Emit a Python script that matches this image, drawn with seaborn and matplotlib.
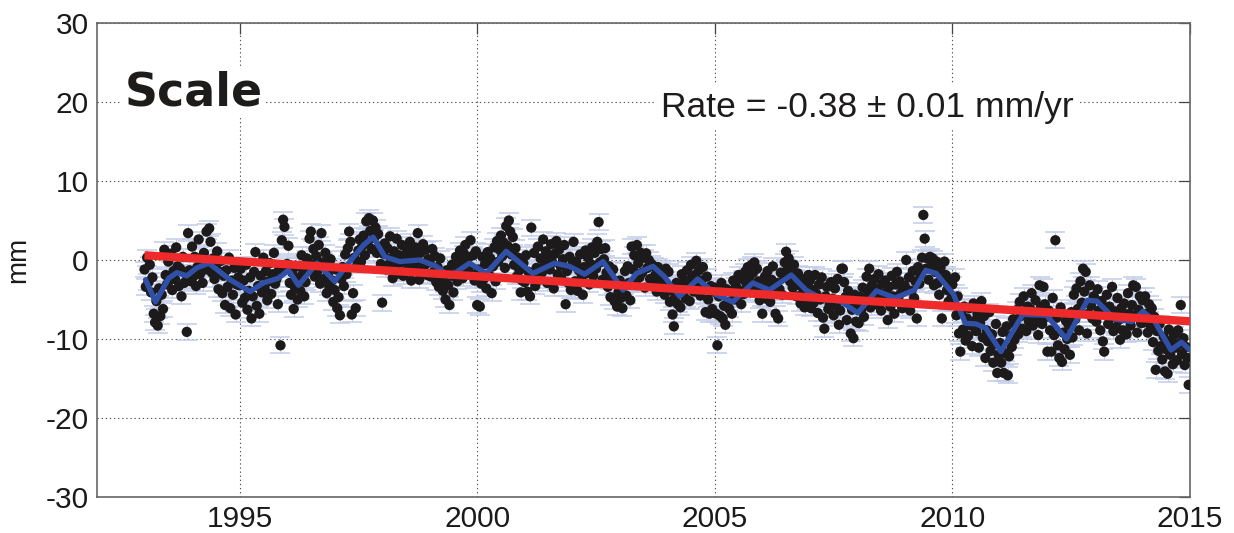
import numpy as np
import pandas as pd
import matplotlib
matplotlib.use("Agg")
import matplotlib.pyplot as plt
import seaborn as sns

# ---------------- data ----------------
years = list(range(1993, 2015))
v1993 = [-1.2, -3.4, 0.3, -2.8, -0.6, -4.1, -2.2, -6.8, -7.9, -5.2, -8.3, -3.6, -7.1, -4.4, -6.2, 1.3, -1.9, -3.1, -0.2, -2.6, 0.8, -3.8, -1.4, -2.4, 1.6, -0.8, -3.3, -1.1, -4.6, 0.4, -2.9, -1.7, -9.1, 3.4, -1.3, -2.7]
v1994 = [1.7, -2.1, 0.4, -3.3, -0.9, 2.6, -1.8, -0.3, -2.9, 0.9, -1.2, 3.6, -0.5, 4.0, 2.3, -1.6, 0.2, -2.4, -0.8, 1.1, -3.7, -1.5, -0.1, -4.2, -2.0, -5.7, -1.3, -3.4, 0.3, -6.1, -2.6, -4.4, -1.0, -6.9, -3.1, -2.2]
v1995 = [-3.2, -1.1, -5.4, -2.6, -4.8, -0.6, -6.3, -3.9, -2.2, -7.4, -4.6, -1.5, 1.0, -5.8, -3.3, -6.8, -2.0, -4.1, 0.3, -3.6, -1.4, -5.1, -2.7, -0.4, -4.3, -1.8, 0.9, -3.0, -2.4, -5.6, -1.2, -10.8, 2.5, 5.1, 4.2, -0.7]
v1996 = [-0.5, 1.8, -2.9, -4.4, -1.6, -6.2, -3.5, -0.8, -5.0, -2.3, -3.9, 0.6, -1.7, -4.6, -2.8, 0.2, -1.1, 2.7, 3.6, -0.6, 1.4, -2.1, 0.5, -1.5, 1.9, -3.0, 3.4, -0.3, -2.4, 0.9, -4.2, -1.9, -3.4, 0.1, -2.6, -5.3]
v1997 = [-3.8, -1.2, -6.1, -4.7, -7.0, -2.4, -0.9, -3.3, 0.7, -1.8, 1.5, 3.6, 2.3, -6.9, -4.2, 0.3, -6.1, -0.7, 1.2, 2.6, -0.2, 1.8, 3.1, 0.6, 4.9, 2.2, 5.3, 3.7, 1.4, 5.0, 2.8, 4.1, 0.9, 3.3, 1.7, -0.5]
v1998 = [-5.4, 0.8, 2.1, -1.2, 1.5, -0.6, 3.0, 0.2, -2.3, 1.1, -0.9, 2.7, -1.7, 0.6, -0.3, 1.9, -2.0, 0.4, -1.4, 1.2, -0.5, 2.3, -2.6, 0.7, -1.0, 1.6, -0.2, 3.4, -2.5, 0.9, -1.3, 2.0, -0.7, 1.3, -1.9, 0.1]
v1999 = [-0.3, -2.1, 1.4, -1.5, 0.5, -2.8, -0.9, -3.4, 0.2, -1.7, -3.9, -2.4, -5.0, -1.3, -3.2, -5.7, -2.0, -0.6, -4.1, -1.8, 0.4, -2.7, -1.0, 1.2, -0.2, -2.3, 0.8, 1.9, -1.4, 0.3, -0.8, 2.5, -1.9, 0.6, -2.6, 1.1]
v2000 = [-5.7, -1.2, -5.9, -3.0, 0.4, -2.4, -0.5, -3.6, 1.0, -1.9, 0.2, -4.2, -0.8, 1.6, -2.7, 2.4, -0.2, 1.3, 3.1, 0.5, 2.2, -1.0, 4.3, 1.8, 5.0, 3.6, 0.7, 2.9, -0.6, 1.5, -2.1, 0.3, -1.3, -4.1, -2.6, -0.4]
v2001 = [-2.8, 0.6, -4.0, -1.5, -4.6, 4.1, -2.2, 0.9, -3.3, -1.0, 1.7, -2.5, 0.2, -1.6, 2.6, -0.4, 1.1, -2.9, 0.5, -1.2, 2.0, -0.3, -3.6, 0.8, 2.4, -1.8, 1.3, -0.7, -2.4, 0.1, 1.9, -5.6, -1.4, -2.9, 0.4, -3.8]
v2002 = [-0.6, 2.3, -2.7, -0.2, -3.9, -1.3, 0.7, -2.2, -4.4, -0.9, 1.2, -1.7, 0.3, -3.1, -0.5, 1.6, -2.0, 0.9, -1.1, 2.3, 4.8, -0.3, 1.4, -2.5, 0.1, 1.5, -1.6, -3.4, -0.8, -4.7, -2.3, -1.2, -5.2, -3.0, -5.9, -4.1]
v2003 = [-2.6, -4.8, -6.1, -3.3, -1.4, -4.5, -0.8, -2.9, -5.1, 1.7, -1.2, 0.6, -3.0, 1.9, -0.4, -2.2, 0.9, -1.6, 0.3, -3.5, 0.85, -1.0, 0.0, -2.4, -0.5, -3.2, -0.8, -1.9, -4.0, -0.9, -2.7, -1.4, -3.6, -2.0, -4.4, -1.1]
v2004 = [-3.2, -1.5, -5.3, -3.8, -6.9, -8.4, -4.7, -2.9, -5.6, -3.4, -6.0, -1.8, -4.2, -2.5, -4.9, -1.3, -3.1, -5.2, -0.6, -2.2, -4.0, -1.9, -0.1, -3.0, -1.3, -4.5, -2.6, -0.9, -3.7, -6.6, -2.1, -5.0, -6.8, -3.3, -6.2, -4.0]
v2005 = [-3.5, -6.8, -10.8, -4.6, -7.1, -2.9, -7.4, -5.8, -8.2, -3.7, -5.3, -6.2, -4.0, -6.8, -2.6, -5.0, -3.3, -4.7, -1.9, -3.9, -5.6, -2.4, -4.3, -1.5, -3.0, -0.9, -2.2, -4.1, -0.6, -1.6, -0.3, -3.4, -1.1, -2.7, -5.1, -4.3]
v2006 = [-6.8, -3.0, -2.1, -4.9, -1.4, -3.6, -5.3, -2.5, -0.8, -4.0, -6.8, -2.9, -7.4, -3.7, -1.6, -4.4, -2.0, -0.3, 1.05, -1.2, 0.2, -2.7, -1.1, -3.5, -0.6, -2.3, -4.6, -1.7, -3.2, -5.5, -2.4, -4.1, -6.0, -3.0, -5.2, -1.9]
v2007 = [-2.6, -6.1, -3.8, -5.4, -1.9, -4.3, -6.7, -3.1, -5.0, -2.2, -7.3, -8.7, -4.6, -3.4, -6.2, -5.5, -2.8, -4.9, -7.0, -3.6, -5.8, -2.4, -8.2, -6.4, -1.1, -1.1, -2.8, -4.7, -7.6, -3.9, -5.2, -9.3, -6.3, -9.9, -4.4, -7.8]
v2008 = [-5.8, -8.0, -4.7, -6.3, -3.5, -7.2, -5.1, -2.1, -4.0, -1.1, -6.0, -3.2, -4.8, -2.4, -5.6, -3.7, -1.8, -4.5, -6.4, -3.0, -5.2, -2.6, -4.1, -7.6, -3.4, -5.9, -2.0, -4.6, -6.8, -3.1, -1.5, -5.0, -2.7, -4.2, -6.1, -3.6]
v2009 = [-3.3, 0.0, -5.6, -2.2, -6.4, -3.9, -1.4, -4.8, -2.7, -7.4, -0.9, -3.0, -1.9, 0.3, 5.7, 2.7, -1.1, 0.2, -2.5, 0.4, -0.8, 0.2, -3.2, -1.5, -0.2, -2.9, -4.4, -1.0, -7.4, -2.1, -0.2, -1.9, -3.8, -5.3, -2.6, -4.9]
v2010 = [-3.1, -5.4, -2.2, -7.0, -4.6, -9.3, -11.6, -6.5, -8.8, -5.9, -10.2, -7.4, -9.6, -6.1, -8.3, -10.9, -5.5, -7.7, -9.0, -6.8, -11.1, -8.0, -5.2, -9.8, -7.1, -12.4, -8.9, -10.3, -6.6, -11.5, -9.4, -13.0, -10.6, -8.1, -14.3, -12.0]
v2011 = [-10.5, -13.0, -9.1, -14.3, -11.8, -8.4, -14.6, -12.2, -9.6, -11.0, -7.5, -10.1, -8.2, -6.3, -9.4, -5.3, -7.1, -8.7, -4.6, -6.8, -9.0, -5.9, -7.8, -6.2, -4.2, -8.3, -6.7, -5.1, -7.4, -9.5, -3.2, -6.0, -8.1, -3.4, -5.6, -7.2]
v2012 = [-11.6, -6.4, -8.9, -11.6, -4.8, -9.5, 2.5, -7.3, -10.8, -12.4, -6.0, -12.9, -9.2, -11.3, -7.7, -10.0, -8.2, -12.0, -6.6, -9.8, -4.4, -7.5, -3.6, -6.2, -8.9, -2.7, -5.4, -1.1, -4.0, -1.5, -9.3, -6.8, -3.2, -5.8, -7.4, -4.6]
v2013 = [-4.9, -7.8, -3.7, -6.4, -8.9, -5.2, -10.3, -11.6, -6.9, -4.4, -8.1, -5.9, -7.3, -3.4, -9.0, -6.5, -8.5, -4.8, -7.6, -10.1, -6.1, -8.9, -5.5, -7.0, -9.4, -4.2, -6.8, -8.3, -5.7, -3.2, -7.1, -3.4, -9.2, -6.3, -4.6, -8.0]
v2014 = [-5.1, -7.9, -4.6, -6.8, -9.2, -5.6, -8.3, -6.1, -10.4, -7.2, -13.9, -9.0, -11.5, -8.1, -10.9, -12.6, -9.7, -14.1, -11.3, -14.4, -8.8, -12.0, -10.2, -13.2, -9.5, -11.1, -12.7, -8.9, -10.6, -5.7, -11.9, -9.9, -13.3, -11.0, -12.4, -15.8]
yearly = [v1993, v1994, v1995, v1996, v1997, v1998, v1999, v2000, v2001, v2002, v2003,
          v2004, v2005, v2006, v2007, v2008, v2009, v2010, v2011, v2012, v2013, v2014]
err_mm = 1.0

# smoothed series (blue)
smooth_t = [1993.02, 1993.23, 1993.51, 1993.68, 1993.89, 1994.10, 1994.35, 1994.48, 1994.80, 1995.22,
            1995.50, 1995.82, 1996.03, 1996.24, 1996.63, 1997.00, 1997.32, 1997.61, 1997.81, 1998.06,
            1998.37, 1998.79, 1999.14, 1999.42, 1999.84, 2000.19, 2000.61, 2001.17, 2001.63, 2001.94,
            2002.26, 2002.65, 2003.07, 2003.35, 2003.70, 2003.94, 2004.26, 2004.64, 2005.03, 2005.38,
            2005.80, 2006.15, 2006.61, 2006.92, 2007.28, 2007.64, 2008.01, 2008.40, 2008.80, 2009.20,
            2009.44, 2009.66, 2010.02, 2010.27, 2010.50, 2010.70, 2011.02, 2011.48, 2011.98, 2012.40,
            2012.84, 2013.04, 2013.42, 2013.78, 2014.01, 2014.26, 2014.60, 2014.82, 2015.00]
smooth_v = [-2.5, -5.3, -2.3, -1.6, -2.0, -1.0, -0.4, -1.0, -2.5, -4.0,
            -2.9, -2.3, -1.3, -3.2, -0.4, -2.7, -0.2, 1.9, 2.9, 0.4,
            -0.2, 0.0, -0.8, -2.1, -0.4, -1.7, 1.1, -1.7, -0.4, -0.8,
            -1.8, -0.2, -3.8, -1.7, -0.8, -2.1, -4.6, -2.4, -4.4, -5.3,
            -2.9, -3.8, -1.9, -3.8, -5.0, -5.2, -6.7, -3.9, -4.8, -3.8,
            -1.3, -1.7, -4.3, -8.0, -8.1, -8.6, -11.6, -6.9, -7.0, -10.0,
            -5.1, -5.2, -7.5, -7.8, -6.5, -7.8, -11.4, -10.4, -11.4]

# linear trend
rate = -0.38
trend_ref_year = 1993.0
trend_ref_value = 0.6
trend_span = [1993.0, 2015.0]
rate_label = "Rate = -0.38 ± 0.01 mm/yr"
panel_label = "Scale"

xticks = [1995, 2000, 2005, 2010, 2015]
yticks = [-30, -20, -10, 0, 10, 20, 30]

# ---------------- build frames ----------------
t_all, v_all = [], []
for yr, vals in zip(years, yearly):
    n = len(vals)
    t_all.extend(yr + np.arange(n) / n)
    v_all.extend(vals)
pts = pd.DataFrame({"t": t_all, "v": v_all})
smooth = pd.DataFrame({"t": smooth_t, "v": smooth_v})
trend = pd.DataFrame({"t": trend_span,
                      "v": [trend_ref_value + rate * (x - trend_ref_year) for x in trend_span]})

# ---------------- plot ----------------
sns.set_style("white")
plt.rcParams["font.family"] = ["Liberation Sans", "DejaVu Sans"]

fig = plt.figure(figsize=(12.34, 5.33), dpi=100)
ax = fig.add_axes([97 / 1234, 1 - 497 / 533, (1190 - 97) / 1234, (497 - 23) / 533])

ax.errorbar(pts["t"], pts["v"], yerr=err_mm, fmt="none", ecolor="#c3cdea",
            elinewidth=0.8, capsize=7.5, capthick=1.1, zorder=2)
sns.scatterplot(data=pts, x="t", y="v", ax=ax, color="#1c1a1a", s=55,
                edgecolor="none", linewidth=0, zorder=3, legend=False)
sns.lineplot(data=smooth, x="t", y="v", ax=ax, color="#3050a8", linewidth=3.8,
             zorder=4, legend=False)
sns.lineplot(data=trend, x="t", y="v", ax=ax, color="#ee2a2a", linewidth=6,
             zorder=5, legend=False, solid_capstyle="butt")

ax.set_xlim(1992.0, 2015.0)
ax.set_ylim(-30, 30)
ax.set_xticks(xticks)
ax.set_yticks(yticks)
ax.set_xticklabels([str(x) for x in xticks])
ax.set_yticklabels([str(y) for y in yticks])
ax.tick_params(direction="in", length=8, width=0.9, color="#444444",
               top=True, right=True, labelsize=21.5, pad=6, labelcolor="#1a1a1a")
ax.grid(True, linestyle=(0, (1.2, 2.5)), color="#555555", linewidth=0.8)
for s in ax.spines.values():
    s.set_color("#666666")
    s.set_linewidth(1.2)
ax.set_xlabel("")
ax.set_ylabel("mm", fontsize=20, color="#1a1a1a", labelpad=10)

ax.text(1992.58, 21.2, panel_label, fontsize=33, fontweight="bold",
        family="DejaVu Sans", color="#1e1b1b", va="center", ha="left",
        bbox=dict(facecolor="white", edgecolor="none", pad=2), zorder=6)
ax.text(2008.2, 19.3, rate_label, fontsize=25.5, color="#1e1b1b", va="center",
        ha="center", bbox=dict(facecolor="white", edgecolor="none", pad=4), zorder=6)

fig.savefig("out.png", dpi=100)
